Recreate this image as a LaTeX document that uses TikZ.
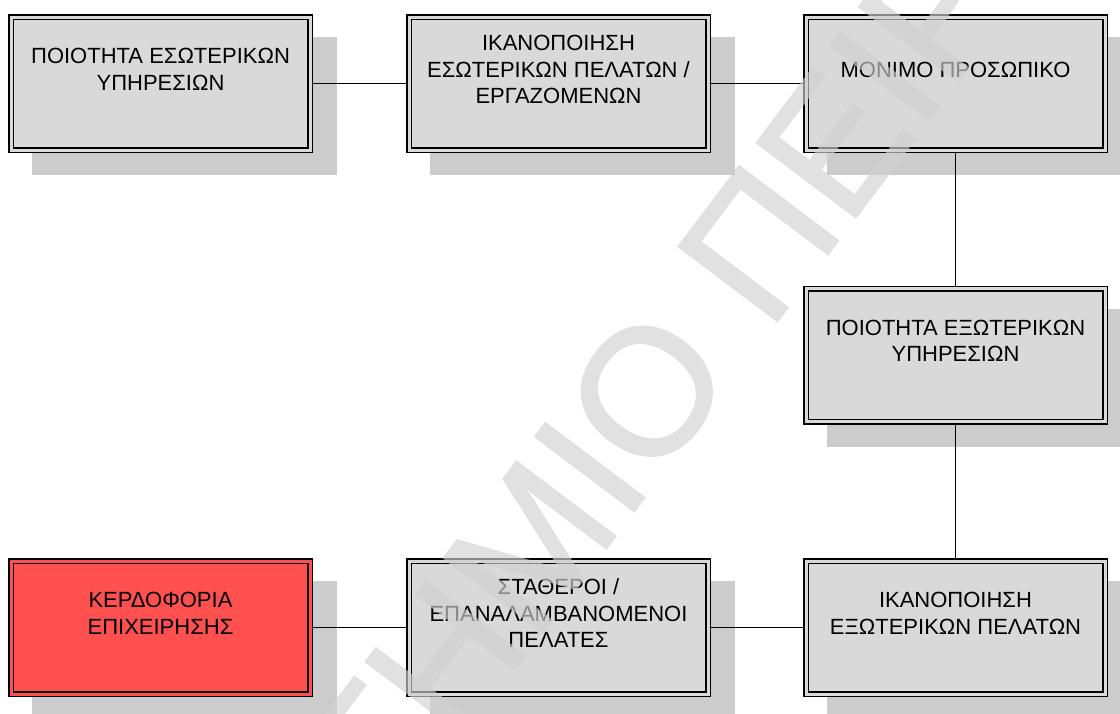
\documentclass[tikz,border=0pt]{standalone}
\usepackage{fontspec}
\setmainfont{Liberation Sans}
\newfontfamily\stampfont[FakeBold=1.2]{Liberation Sans}
\usetikzlibrary{calc}
\definecolor{boxfill}{HTML}{D9D9D9}
\definecolor{shadowfill}{HTML}{CCCCCC}
\definecolor{redfill}{HTML}{FF5050}
\definecolor{markgray}{HTML}{D1D1D1}
\pgfdeclarelayer{shadows}
\pgfdeclarelayer{links}
\pgfdeclarelayer{stamp}
\pgfsetlayers{shadows,links,main,stamp}
\begin{document}
\begin{tikzpicture}[x=1pt,y=-1pt,
  box/.style={draw=black, line width=1.5pt, double=#1, double distance=3pt,
    fill=#1, minimum width=299pt, minimum height=133pt, inner sep=0pt,
    outer sep=3pt},
  box/.default=boxfill,
  lbl/.style={align=center, inner sep=0pt,
    font=\fontsize{22}{26.5}\selectfont},
  link/.style={draw=black, line width=1.5pt},
  shade/.style={fill=shadowfill},
  stampmark/.style={text=markgray, inner sep=0pt,
    font=\stampfont\fontsize{180}{180}\selectfont, rotate=53, anchor=base west}]
\useasboundingbox (0,0) rectangle (1120,713);

% boxes
\node[box] (b1) at (160.5,83.5) {};
\node[box] (b2) at (558.5,83.5) {};
\node[box] (b3) at (955.5,83.5) {};
\node[box] (b4) at (955.5,355) {};
\node[box] (b7) at (955.5,627.5) {};
\node[box] (b6) at (558.5,627.5) {};
\node[box=redfill] (b5) at (160.5,627.5) {};

% labels, set a little above the box centres
\node[lbl] (t1) at ([yshift=14pt]b1.center) {ΠΟΙΟΤΗΤΑ ΕΣΩΤΕΡΙΚΩΝ\\ΥΠΗΡΕΣΙΩΝ};
\node[lbl] (t2) at ([yshift=14pt]b2.center) {ΙΚΑΝΟΠΟΙΗΣΗ\\ΕΣΩΤΕΡΙΚΩΝ ΠΕΛΑΤΩΝ /\\ΕΡΓΑΖΟΜΕΝΩΝ};
\node[lbl] (t3) at ([yshift=14pt]b3.center) {ΜΟΝΙΜΟ ΠΡΟΣΩΠΙΚΟ};
\node[lbl] (t4) at ([yshift=14pt]b4.center) {ΠΟΙΟΤΗΤΑ ΕΞΩΤΕΡΙΚΩΝ\\ΥΠΗΡΕΣΙΩΝ};
\node[lbl] (t7) at ([yshift=14pt]b7.center) {ΙΚΑΝΟΠΟΙΗΣΗ\\ΕΞΩΤΕΡΙΚΩΝ ΠΕΛΑΤΩΝ};
\node[lbl] (t6) at ([yshift=14pt]b6.center) {ΣΤΑΘΕΡΟΙ /\\ΕΠΑΝΑΛΑΜΒΑΝΟΜΕΝΟΙ\\ΠΕΛΑΤΕΣ};
\node[lbl] (t5) at ([yshift=14pt]b5.center) {ΚΕΡΔΟΦΟΡΙΑ\\ΕΠΙΧΕΙΡΗΣΗΣ};

% flat drop shadows
\begin{pgfonlayer}{shadows}
  \foreach \b in {b1,b2,b3,b4,b5,b6,b7}
    \fill[shade] ($(\b.north west)+(24,23)$) rectangle ($(\b.south east)+(24,22)$);
\end{pgfonlayer}

% connectors
\begin{pgfonlayer}{links}
  \draw[link] (b1) -- (b2);
  \draw[link] (b2) -- (b3);
  \draw[link] (b3) -- (b4);
  \draw[link] (b4) -- (b7);
  \draw[link] (b7) -- (b6);
  \draw[link] (b6) -- (b5);
\end{pgfonlayer}

% diagonal stamp across the sheet, composited as one translucent group
\begin{pgfonlayer}{stamp}
  \begin{scope}[transparency group, opacity=0.65]
    \node[stampmark] (wm) at (389.5,836) {ΤΗΜΙΟ ΠΕΙΡ};
  \end{scope}
\end{pgfonlayer}
\end{tikzpicture}
\end{document}
